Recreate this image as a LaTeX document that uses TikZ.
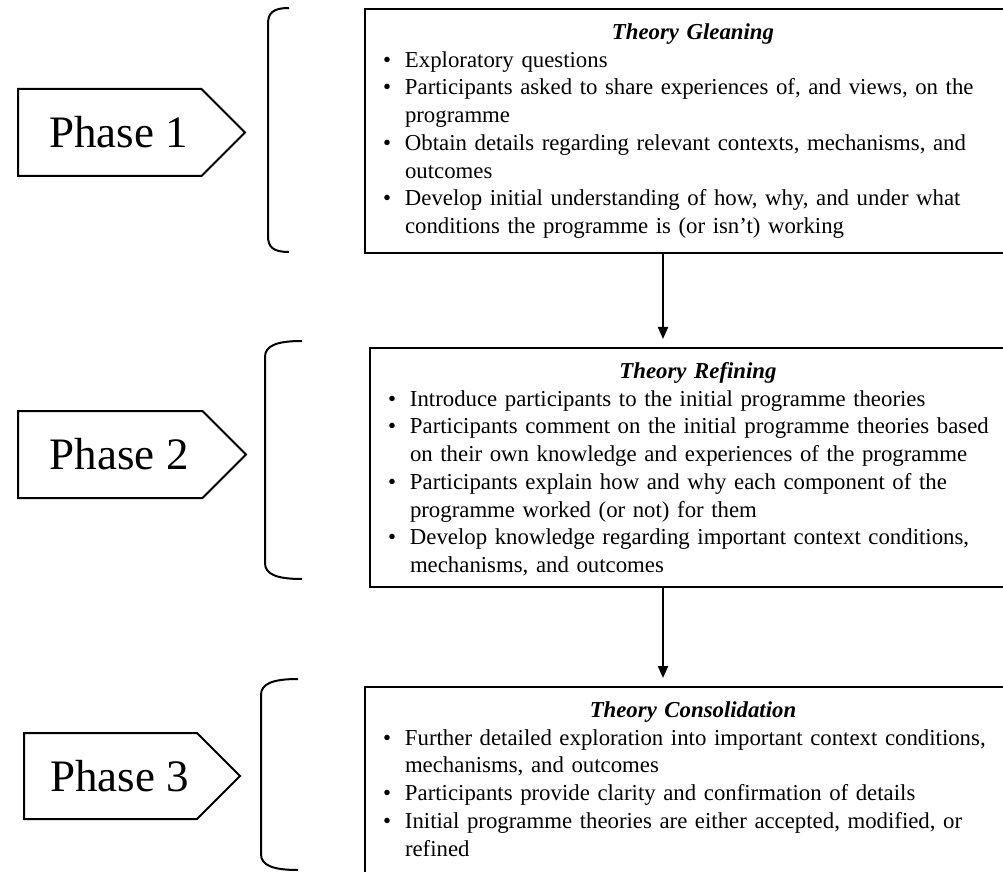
\documentclass[tikz,border=0pt]{standalone}
\usepackage{fontspec}
\setmainfont{Liberation Serif}
\usetikzlibrary{positioning,shapes.symbols,arrows.meta}

\newcommand{\itm}{\makebox[11pt][l]{\textbullet}}
\newcommand{\cnt}{\hspace*{11pt}}
\newcommand{\boxhead}[1]{\makebox[310pt][c]{\strut\textbf{\textit{#1}}}}

\begin{document}
\begin{tikzpicture}[
    x=0.5pt,
    y=-0.5pt,
    line width=1pt,
    phase/.style={
        draw,
        signal,
        signal to=east,
        signal pointer angle=90,
        minimum height=43.5pt,
        inner sep=0pt,
        anchor=west,
        font=\fontsize{22.5}{27}\selectfont
    },
    stage/.style={
        draw,
        anchor=north west,
        align=left,
        text width=310pt,
        inner xsep=9pt,
        inner ysep=5.6pt,
        font=\fontsize{11.4}{13.85}\selectfont
    },
    flow/.style={
        draw,
        -{Triangle[length=6pt,width=5pt]},
        shorten >=4pt,
        line width=1pt
    },
    sidebracket/.style={
        draw,
        line width=1pt
    }
]
    \useasboundingbox (0,0) rectangle (1003,872);
    \clip (0,0) rectangle (1003,872);

    % phase markers
    \node[phase,minimum width=113.5pt] (ph1) at (17,132.5) {\hspace*{9pt}Phase 1};
    \node[phase,minimum width=114pt] (ph2) at (17,454.5) {\hspace*{9pt}Phase 2};
    \node[phase,minimum width=108pt,minimum height=43pt] (ph3) at (23,776) {\hspace*{9pt}Phase 3};

    % brackets
    \draw[sidebracket] (289,8) .. controls (273,8) and (268,13) .. (268,24)
        -- (268,236) .. controls (268,247) and (273,252) .. (289,252);
    \draw[sidebracket] (302,341) .. controls (276,341) and (265,346) .. (265,357)
        -- (265,563) .. controls (265,574) and (276,579) .. (302,579);
    \draw[sidebracket] (298,679) .. controls (272,679) and (261,684) .. (261,695)
        -- (261,854) .. controls (261,865) and (272,870) .. (298,870);

    % stage boxes
    \node[stage] (glean) at (364,8) {
        \boxhead{Theory Gleaning}\\
        \itm Exploratory questions\\
        \itm Participants asked to share experiences of, and views, on the\\
        \cnt programme\\
        \itm Obtain details regarding relevant contexts, mechanisms, and\\
        \cnt outcomes\\
        \itm Develop initial understanding of how, why, and under what\\
        \cnt conditions the programme is (or isn’t) working\strut
    };
    \node[stage] (refine) at (369,347) {
        \boxhead{Theory Refining}\\
        \itm Introduce participants to the initial programme theories\\
        \itm Participants comment on the initial programme theories based\\
        \cnt on their own knowledge and experiences of the programme\\
        \itm Participants explain how and why each component of the\\
        \cnt programme worked (or not) for them\\
        \itm Develop knowledge regarding important context conditions,\\
        \cnt mechanisms, and outcomes
    };
    \node[stage] (consol) at (364,686) {
        \boxhead{Theory Consolidation}\\
        \itm Further detailed exploration into important context conditions,\\
        \cnt mechanisms, and outcomes\\
        \itm Participants provide clarity and confirmation of details\\
        \itm Initial programme theories are either accepted, modified, or\\
        \cnt refined\strut
    };

    % flow between stages
    \coordinate (spine) at (663,0);
    \draw[flow] (glean.south -| spine) -- (refine.north -| spine);
    \draw[flow] (refine.south -| spine) -- (consol.north -| spine);
\end{tikzpicture}
\end{document}
